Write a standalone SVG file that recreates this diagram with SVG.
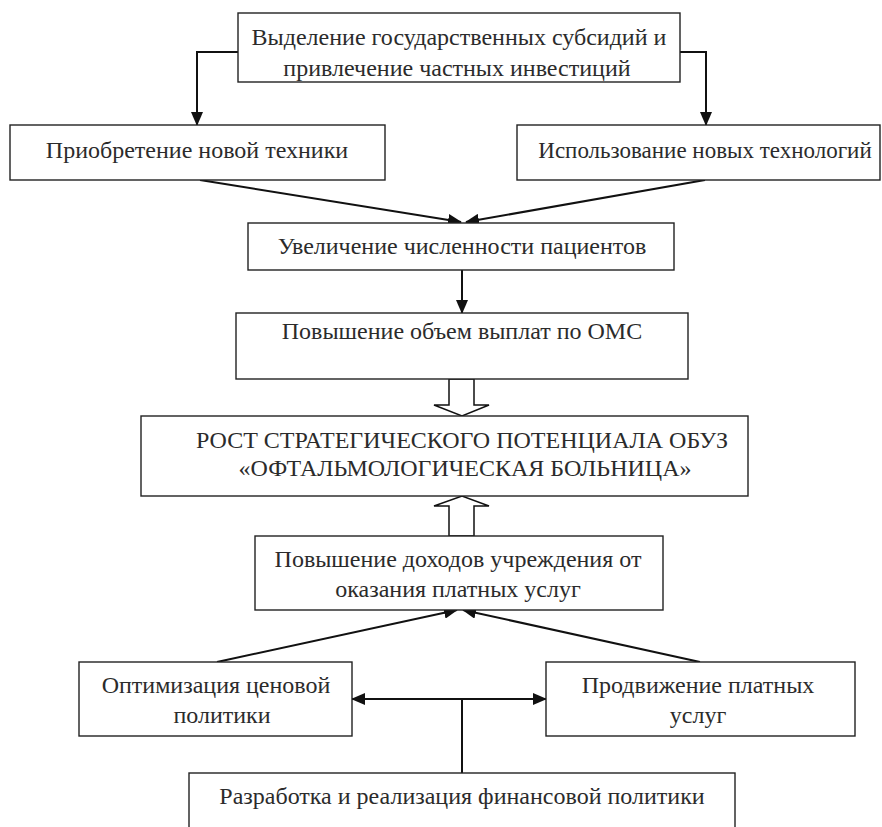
<svg xmlns="http://www.w3.org/2000/svg" width="882" height="827" viewBox="0 0 882 827">
<style>
.box{fill:#fff;stroke:#222;stroke-width:1.4}
.t{font-family:"Liberation Serif","Times New Roman",serif;font-size:24px;fill:#2b2b2b;text-anchor:middle}
.s{font-size:23px}
.c{fill:none;stroke:#111;stroke-width:2}
.h{fill:#fff;stroke:#111;stroke-width:1.5;stroke-linejoin:miter}
</style>
<defs>
<marker id="ah" markerUnits="userSpaceOnUse" markerWidth="14" markerHeight="12" viewBox="0 0 14 12" refX="13" refY="6" orient="auto-start-reverse">
<path d="M0,0 L14,6 L0,12 Z" fill="#111"/>
</marker>
</defs>
<rect width="882" height="827" fill="#fff"/>
<g id="connectors">
<polyline class="c" points="238,52 197,52 197,125" marker-end="url(#ah)"/>
<polyline class="c" points="680,52 706,52 706,125" marker-end="url(#ah)"/>
<line class="c" x1="200" y1="180" x2="461" y2="222" marker-end="url(#ah)"/>
<line class="c" x1="705" y1="180" x2="466" y2="222" marker-end="url(#ah)"/>
<line class="c" x1="462" y1="270" x2="462" y2="313" marker-end="url(#ah)"/>
<polygon class="h" points="449,379 474,379 474,405 489,405 462,416 434,405 449,405"/>
<polygon class="h" points="449,536 474,536 474,506 489,506 462,496 434,506 449,506"/>
<line class="c" x1="217" y1="662" x2="457" y2="610" marker-end="url(#ah)"/>
<line class="c" x1="700" y1="662" x2="463" y2="610" marker-end="url(#ah)"/>
<line class="c" x1="352" y1="699" x2="546" y2="699" marker-start="url(#ah)" marker-end="url(#ah)"/>
<line class="c" x1="462" y1="699" x2="462" y2="773"/>
</g>
<g id="n1"><rect class="box" x="238" y="13" width="442" height="69"/>
<text class="t" x="459" y="45">Выделение государственных субсидий и</text>
<text class="t" x="457" y="76">привлечение частных инвестиций</text></g>
<g id="n2"><rect class="box" x="10" y="125" width="375" height="55"/>
<text class="t" x="197" y="158">Приобретение новой техники</text></g>
<g id="n3"><rect class="box" x="517" y="125" width="363" height="55"/>
<text class="t s" x="705" y="158">Использование новых технологий</text></g>
<g id="n4"><rect class="box" x="248" y="223" width="426" height="47"/>
<text class="t" x="462" y="254">Увеличение численности пациентов</text></g>
<g id="n5"><rect class="box" x="236" y="313" width="452" height="66"/>
<text class="t" x="462" y="339">Повышение объем выплат по ОМС</text></g>
<g id="n6"><rect class="box" x="141" y="416" width="607" height="80"/>
<text class="t" x="462" y="448">РОСТ СТРАТЕГИЧЕСКОГО ПОТЕНЦИАЛА ОБУЗ</text>
<text class="t" x="465" y="476">«ОФТАЛЬМОЛОГИЧЕСКАЯ БОЛЬНИЦА»</text></g>
<g id="n7"><rect class="box" x="255" y="536" width="408" height="74"/>
<text class="t" x="458" y="567">Повышение доходов учреждения от</text>
<text class="t" x="458" y="597">оказания платных услуг</text></g>
<g id="n8"><rect class="box" x="79" y="662" width="273" height="74"/>
<text class="t" x="216" y="693">Оптимизация ценовой</text>
<text class="t" x="222" y="723">политики</text></g>
<g id="n9"><rect class="box" x="546" y="662" width="309" height="74"/>
<text class="t" x="698" y="693">Продвижение платных</text>
<text class="t" x="698" y="723">услуг</text></g>
<g id="n10"><rect class="box" x="189" y="773" width="546" height="80"/>
<text class="t" x="462" y="804">Разработка и реализация финансовой политики</text></g>
</svg>
